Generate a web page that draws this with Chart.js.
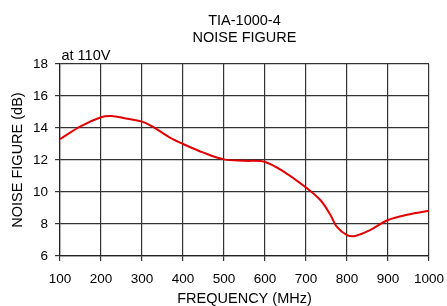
<!DOCTYPE html>
<html>
<head>
<meta charset="utf-8">
<script src="https://cdn.jsdelivr.net/npm/chart.js@4/dist/chart.umd.min.js"></script>
<style>
html,body{margin:0;padding:0;background:#fff;}
#wrap{width:447px;height:306px;position:relative;}
</style>
</head>
<body>
<div id="wrap"><canvas id="c" width="447" height="306"></canvas></div>
<script>
const chartTitle = ["TIA-1000-4", "NOISE FIGURE"];
const noteText = "at 110V";
const xAxisTitle = "FREQUENCY (MHz)";
const yAxisTitle = "NOISE FIGURE (dB)";
const frequencies = [100, 150, 200, 225, 260, 300, 325, 350, 375, 400, 450, 500, 550, 600, 650, 700, 735, 760, 775, 800, 820, 855, 900, 950, 1000];
const noiseFigure = [13.3, 14.1, 14.67, 14.75, 14.6, 14.4, 14.1, 13.7, 13.3, 13.0, 12.46, 12.04, 11.95, 11.88, 11.2, 10.28, 9.5, 8.55, 7.83, 7.3, 7.25, 7.6, 8.25, 8.6, 8.83];
const xTicks = [100, 200, 300, 400, 500, 600, 700, 800, 900, 1000];
const yTicks = [6, 8, 10, 12, 14, 16, 18];

const FONT = "'Liberation Sans', Arial, sans-serif";

const textPlugin = {
  id: 'textPlugin',
  afterDraw(chart) {
    const ctx = chart.ctx;
    const a = chart.chartArea;
    ctx.save();
    ctx.fillStyle = '#000';
    ctx.font = '14.5px ' + FONT;
    ctx.textAlign = 'center';
    ctx.textBaseline = 'middle';
    const cx = (a.left + a.right) / 2;
    ctx.fillText(chartTitle[0], cx, 21);
    ctx.fillText(chartTitle[1], cx, 38);
    ctx.fillText(xAxisTitle, cx, 298.5);
    ctx.textAlign = 'left';
    ctx.fillText(noteText, 61.5, 56);
    ctx.translate(18, (a.top + a.bottom) / 2);
    ctx.rotate(-Math.PI / 2);
    ctx.textAlign = 'center';
    ctx.fillText(yAxisTitle, 0, 0);
    ctx.restore();
  }
};

new Chart(document.getElementById('c'), {
  type: 'line',
  data: {
    datasets: [{
      data: frequencies.map((f, i) => ({x: f, y: noiseFigure[i]})),
      borderColor: '#e00000',
      borderWidth: 2,
      pointRadius: 0,
      tension: 0.35,
      fill: false
    }]
  },
  options: {
    responsive: false,
    animation: false,
    devicePixelRatio: 1,
    layout: { padding: { left: 0, right: 18, top: 64, bottom: 0 } },
    plugins: { legend: { display: false }, tooltip: { enabled: false }, title: { display: false } },
    scales: {
      x: {
        type: 'linear',
        min: 100, max: 1000,
        afterFit(s) { s.height = 50; s.paddingLeft = 0; s.paddingRight = 0; },
        afterBuildTicks(s) { s.ticks = xTicks.map(v => ({value: v})); },
        grid: { color: '#333', lineWidth: 1.2, tickLength: 5, drawTicks: true },
        border: { color: '#222', width: 1.2 },
        ticks: { color: '#000', font: { family: FONT, size: 13.5 }, padding: 10, maxRotation: 0, autoSkip: false, callback: v => String(v) }
      },
      y: {
        min: 6, max: 18,
        afterFit(s) { s.width = 60; s.paddingTop = 0; s.paddingBottom = 0; },
        afterBuildTicks(s) { s.ticks = yTicks.map(v => ({value: v})); },
        grid: { color: '#333', lineWidth: 1.2, tickLength: 5, drawTicks: true },
        border: { color: '#222', width: 1.2 },
        ticks: { color: '#000', font: { family: FONT, size: 13.5 }, padding: 7, callback: v => String(v) }
      }
    }
  },
  plugins: [textPlugin]
});
</script>
</body>
</html>
